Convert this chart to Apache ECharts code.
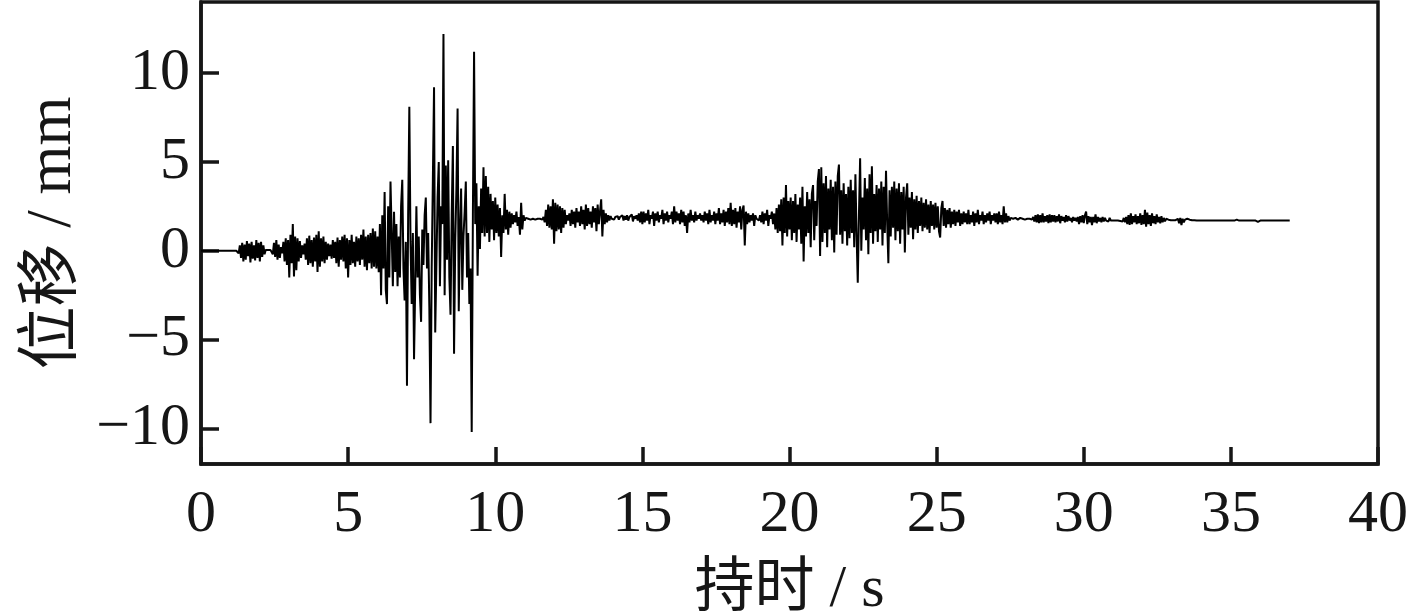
<!DOCTYPE html>
<html>
<head>
<meta charset="utf-8">
<script src="https://cdn.jsdelivr.net/npm/echarts@6/dist/echarts.min.js"></script>
<style>
html,body{margin:0;padding:0;background:#fff;}
#chart{width:1413px;height:616px;}
</style>
</head>
<body>
<div id="chart"></div>
<script>
// Axis ticks
const xTicks = [0, 5, 10, 15, 20, 25, 30, 35, 40];
const yTicks = [-10, -5, 0, 5, 10];
const xTitle = '持时 / s';
const yTitle = '位移 / mm';
// Sampling interval (s) of the displacement record
const dt = 0.04;
// Displacement (mm), one row per second of duration; row k holds samples at k, k+dt, ...
const displacementBySecond = [
/* 0 */ [0,0,0,0,0,0,0,0,0,0,0,0,0,0,0,0,0,0,0,0,0,0,0,0,0],
/* 1 */ [0,0,0,0,0,0,0.05,-0.15,0.3,-0.4,0.45,-0.6,0.35,-0.5,0.55,-0.3,0.4,-0.65,0.5,-0.45,0.3,-0.55,0.6,-0.4,0.45],
/* 2 */ [-0.6,0.5,-0.35,0.3,-0.2,0.05,0.02,0.04,0.03,0.05,0.1,-0.2,0.45,-0.35,0.6,-0.5,0.35,-0.4,0.2,-0.15,0.5,-0.6,0.7,-0.8,0.6],
/* 3 */ [-1.5,0.9,-0.7,1.5,-1.45,0.8,-1.1,0.7,-0.6,0.55,-0.4,0.3,-0.2,0.4,-0.5,0.7,-0.8,0.85,-0.7,0.6,-0.9,0.75,-0.6,0.9,-1.2],
/* 4 */ [1.1,-0.9,0.7,-0.6,0.8,-0.7,0.5,-0.5,0.4,-0.3,0.35,-0.45,0.6,-0.4,0.5,-0.7,0.75,-0.9,0.6,-0.5,0.8,-0.6,0.9,-1.0,0.7],
/* 5 */ [-1.5,0.6,-0.8,0.9,-0.7,0.5,-0.9,0.8,-0.6,0.7,-0.8,0.9,-0.5,1.2,-0.9,0.8,-1.1,0.9,-0.7,1.0,-1.0,1.25,-0.9,1.1,-1.0],
/* 6 */ [0.8,-1.2,1.5,-2.5,2.0,-1.0,3.3,-2.2,-3.0,2.5,-1.5,3.9,1.0,-2.0,2.2,-1.2,1.5,-2.0,0.8,-1.5,2.5,4.0,-1.0,-2.8,0.5],
/* 7 */ [-7.6,2.0,8.1,0.5,-3.0,1.0,-6.1,-2.0,2.5,-1.5,0.8,-2.5,-4.0,1.2,-0.8,2.0,3.0,-1.0,1.0,-3.2,-9.7,-1.0,4.0,9.2,-4.6],
/* 8 */ [-4.5,3.0,5.0,-2.0,2.5,1.5,12.2,-2.5,4.8,-0.5,5.1,-1.5,-3.6,2.0,5.9,-5.8,0.5,3.5,8.0,-3.4,1.2,3.5,-2.2,0.8,2.2],
/* 9 */ [3.9,-1.5,1.0,-3.0,-1.0,-10.2,2.0,11.2,1.5,3.8,-1.4,2.5,0.1,3.5,1.0,4.7,0.8,4.2,1.0,3.6,0.5,3.2,1.2,2.8,0.6],
/* 10 */ [3.0,1.0,2.6,0.8,2.4,-0.35,2.0,1.0,3.2,1.2,2.3,0.9,2.2,1.3,2.1,1.5,2.0,1.6,2.2,1.4,1.9,0.9,2.7,1.2,2.0],
/* 11 */ [1.7,1.85,1.75,1.8,1.9,1.75,1.85,1.8,1.9,1.75,1.85,1.8,1.9,1.8,1.85,1.75,1.9,1.6,2.3,1.4,2.6,1.3,2.5,1.2,2.9],
/* 12 */ [0.4,2.7,1.1,2.6,1.2,2.5,1.0,2.4,1.3,2.3,1.5,2.0,1.7,2.1,1.4,2.3,1.5,2.2,1.3,2.4,1.6,2.2,1.4,2.5,1.5],
/* 13 */ [2.3,1.2,2.6,1.4,2.4,1.5,2.2,1.3,2.5,1.6,2.4,1.1,2.6,1.5,2.2,2.9,0.8,2.3,1.5,2.1,1.6,2.0,1.7,1.95,1.8],
/* 14 */ [1.85,1.75,1.9,1.8,1.95,1.75,1.9,1.8,2.0,1.7,1.95,1.75,2.0,1.7,1.9,1.8,2.05,1.65,1.95,1.8,2.0,1.7,2.1,1.6,2.2],
/* 15 */ [1.5,2.2,1.6,2.1,1.7,2.3,1.5,2.0,1.8,2.2,1.4,2.1,1.7,2.2,1.6,2.0,1.8,2.3,1.5,2.1,1.7,2.2,1.6,2.0,1.8],
/* 16 */ [2.2,1.5,2.5,1.6,2.2,1.7,2.1,1.5,2.3,1.6,2.2,1.4,2.0,1.0,2.1,1.6,2.3,1.7,2.0,1.6,2.2,1.7,2.0,1.8,2.1],
/* 17 */ [1.7,2.0,1.6,2.2,1.7,2.1,1.5,2.3,1.6,2.0,1.7,2.2,1.5,2.1,1.7,2.4,1.5,2.1,1.6,2.3,1.4,2.2,1.6,2.4,1.5],
/* 18 */ [2.7,1.4,2.3,1.5,2.4,1.3,2.2,1.6,2.5,1.2,2.3,2.55,0.3,2.2,1.5,2.1,1.6,2.0,1.7,2.1,1.4,2.0,1.8,1.9,1.7],
/* 19 */ [2.0,1.6,2.2,1.5,2.1,1.7,2.3,1.4,2.0,1.8,2.2,1.5,2.1,1.2,2.4,1.0,2.6,1.1,2.9,0.3,3.0,1.0,3.7,0.8,2.8],
/* 20 */ [1.2,3.0,0.6,2.8,1.0,3.2,0.5,2.6,1.2,3.0,0.4,3.6,-0.6,2.5,0.8,3.3,1.0,2.9,0.2,3.2,3.7,0.6,2.8,1.4,3.9],
/* 21 */ [4.6,-0.3,4.7,0.5,3.8,1.0,4.2,0.2,3.5,1.2,4.0,0.6,3.6,-0.1,3.9,0.9,4.2,4.85,0.9,3.4,0.4,3.8,1.1,3.2,0.3],
/* 22 */ [3.6,0.7,4.0,1.0,3.4,0.2,4.3,0.9,-1.8,2.0,5.2,0.0,3.0,1.2,4.1,0.6,3.5,-0.2,4.3,1.0,4.75,0.4,3.2,1.1,3.7],
/* 23 */ [0.5,3.5,1.2,3.9,0.3,3.6,1.0,4.5,1.5,-0.7,3.4,0.8,3.6,1.3,3.9,0.6,3.5,1.1,3.8,0.4,3.3,1.2,3.6,-0.1,3.0],
/* 24 */ [3.8,0.9,3.0,1.3,3.3,0.65,2.9,1.2,3.1,1.0,2.8,1.4,3.0,1.1,2.7,1.3,2.9,1.2,2.6,1.0,2.8,1.4,2.6,1.2,2.7],
/* 25 */ [1.3,2.5,1.1,0.75,2.4,2.8,1.4,2.4,1.3,2.3,1.5,2.4,1.3,2.2,1.5,2.3,1.4,2.2,1.6,2.3,1.4,2.1,1.5,2.2,1.6],
/* 26 */ [2.1,1.5,2.3,1.5,2.0,1.6,2.2,1.4,2.1,1.6,2.3,1.5,2.0,1.7,2.2,1.5,2.0,1.6,2.1,1.7,2.2,1.5,2.0,1.7,2.1],
/* 27 */ [1.6,2.1,1.5,2.2,1.6,2.0,1.5,2.5,1.6,2.1,1.6,1.95,1.7,1.85,1.75,1.8,1.75,1.85,1.8,1.75,1.8,1.85,1.75,1.8,1.8],
/* 28 */ [1.75,1.85,1.8,1.75,1.8,1.85,1.75,1.9,1.65,2.0,1.6,2.05,1.55,2.0,1.6,2.1,1.6,1.95,1.65,2.0,1.55,2.05,1.6,2.0,1.65],
/* 29 */ [2.0,1.6,1.95,1.65,2.05,1.55,1.95,1.7,1.9,1.6,2.0,1.65,1.95,1.7,1.85,1.6,1.9,1.7,1.85,1.65,1.9,1.5,1.95,1.6,2.0],
/* 30 */ [1.55,2.0,2.2,1.5,1.95,1.6,1.9,1.45,1.9,1.6,2.05,1.55,1.9,1.65,1.85,1.6,1.9,1.65,1.85,1.7,1.8,1.65,1.85,1.7,1.8],
/* 31 */ [1.7,1.75,1.7,1.75,1.7,1.72,1.68,1.75,1.65,1.85,1.6,1.9,1.5,2.0,1.45,2.1,1.5,1.95,1.6,2.05,1.5,1.95,1.55,2.1,1.45],
/* 32 */ [2.0,1.5,2.3,1.35,2.15,1.5,2.0,1.4,2.1,1.55,1.95,1.5,2.05,1.6,1.9,1.55,1.95,1.6,1.85,1.65,1.8,1.7,1.75,1.7,1.72],
/* 33 */ [1.7,1.72,1.7,1.72,1.7,1.8,1.55,1.85,1.45,1.8,1.6,1.75,1.65,1.8,1.7,1.75,1.68,1.72,1.7,1.72,1.7,1.7,1.7,1.7,1.7],
/* 34 */ [1.7,1.7,1.7,1.7,1.7,1.7,1.7,1.7,1.7,1.7,1.7,1.7,1.7,1.7,1.7,1.7,1.7,1.7,1.7,1.7,1.7,1.7,1.7,1.7,1.7],
/* 35 */ [1.7,1.7,1.7,1.7,1.62,1.75,1.7,1.7,1.7,1.7,1.7,1.7,1.7,1.7,1.7,1.7,1.7,1.7,1.7,1.7,1.7,1.7,1.78,1.63,1.7],
/* 36 */ [1.7,1.7,1.7,1.7,1.7,1.7,1.7,1.7,1.7,1.7,1.7,1.7,1.7,1.7,1.7,1.7,1.7,1.7,1.7,1.7,1.7,1.7,1.7,1.7,1.7],
/* 37 */ [1.7]
];

const seriesData = [];
displacementBySecond.forEach(function (row, sec) {
  row.forEach(function (v, i) {
    seriesData.push([+(sec + i * dt).toFixed(2), v]);
  });
});

const serif = "'Liberation Serif', 'Times New Roman', 'Noto Sans CJK SC', serif";
const ink = '#161616';

const chart = echarts.init(document.getElementById('chart'), null, { renderer: 'canvas' });
chart.setOption({
  animation: false,
  backgroundColor: '#ffffff',
  grid: {
    left: 201, right: 35, top: 2, bottom: 152,
    containLabel: false,
    outerBoundsMode: 'none',
    show: true, borderColor: ink, borderWidth: 3.5, backgroundColor: 'transparent'
  },
  xAxis: {
    type: 'value',
    min: xTicks[0], max: xTicks[xTicks.length - 1], interval: 5,
    name: xTitle,
    nameLocation: 'middle',
    nameGap: 96,
    nameTextStyle: { fontFamily: serif, fontSize: 60, color: ink },
    axisLine: { show: true, onZero: false, lineStyle: { color: ink, width: 3.5 } },
    axisTick: { show: true, inside: true, length: 17, lineStyle: { color: ink, width: 3.5 } },
    axisLabel: { fontFamily: serif, fontSize: 60, color: ink, margin: 21 },
    splitLine: { show: false }
  },
  yAxis: {
    type: 'value',
    min: -12, max: 14,
    name: yTitle,
    nameLocation: 'middle',
    nameGap: 116,
    nameRotate: 90,
    nameTextStyle: { fontFamily: serif, fontSize: 63, color: ink },
    axisLine: { show: true, onZero: false, lineStyle: { color: ink, width: 3.5 } },
    axisTick: { show: true, inside: true, length: 18, customValues: yTicks, lineStyle: { color: ink, width: 3.5 } },
    axisLabel: {
      fontFamily: serif, fontSize: 60, color: ink, margin: 11,
      customValues: yTicks,
      formatter: function (v) { return String(v).replace('-', '\u2212'); }
    },
    splitLine: { show: false }
  },
  series: [{
    type: 'line',
    data: seriesData,
    showSymbol: false,
    sampling: null,
    lineStyle: { color: '#000', width: 2 },
    silent: true
  }]
});
</script>
</body>
</html>
